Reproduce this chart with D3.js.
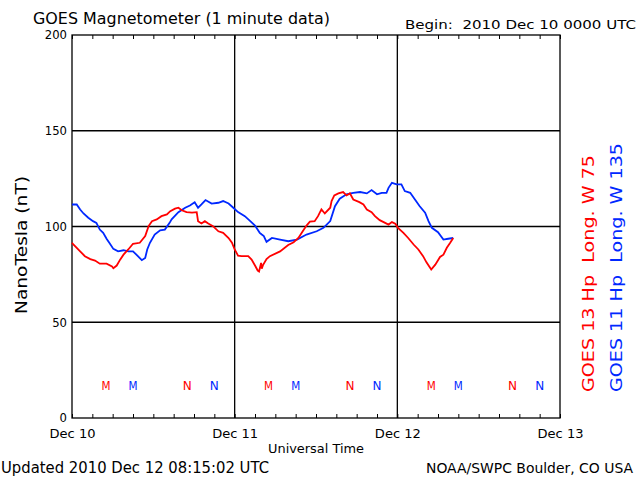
<!DOCTYPE html>
<html><head><meta charset="utf-8">
<script src="https://cdn.jsdelivr.net/npm/d3@7"></script>
<style>html,body{margin:0;padding:0;background:#fff;}svg{display:block;}text{white-space:pre;}</style>
</head><body>
<svg id="c" width="640" height="480"></svg>
<script>
// ---- data ----
const g13Hours = [0,0.2,1.2,1.9,2.7,3.4,4.1,5.1,5.9,6.1,6.6,7.1,7.6,8.3,9.0,10.0,10.3,10.8,11.3,11.8,12.5,13.2,14.0,14.5,15.2,15.7,16.2,16.9,17.7,18.4,18.6,19.1,19.6,20.1,20.8,21.6,22.3,23.1,23.6,24.0,24.5,25.0,26.0,26.5,27.0,27.4,27.6,27.9,28.0,28.2,28.7,29.2,30.7,31.9,32.7,33.4,33.9,34.6,35.1,35.8,36.3,36.8,37.3,38.1,38.3,38.7,39.3,40.0,40.5,41.0,41.5,42.4,43.0,43.5,44.2,44.7,45.4,46.2,46.7,47.2,47.7,48.1,48.9,49.6,50.4,51.1,51.8,52.3,53.0,53.6,54.3,54.8,55.3,55.8,56.25];
const g13Values = [91.5,90.6,87,84.5,83,82.2,80.6,80.6,79.2,78.2,79.6,82.7,85.3,88,91,91.5,92.8,95,100.2,102.8,103.7,105.4,106.3,108,109.3,109.8,108.5,107.5,107.2,107.5,102.8,101.6,102.8,101.6,100.2,97.5,96.7,94,91.5,88,84.8,84.5,84.5,82.7,79.6,77,76.5,81,78,80,83,84.5,87,90.3,91.8,94,96.7,100.5,102.5,102.8,105.4,108.9,106.8,109.8,113.3,116.2,117.3,118,116.2,117.3,114.1,112.7,111.5,108.9,107.5,105.4,103.3,101.9,101,102.3,101.4,99.3,96.7,94,90.6,88,84.5,81.3,77.5,80.1,84.1,85.3,88.9,91.5,94];
const g11Hours = [0,0.7,1.2,1.7,2.4,3.1,3.6,4.1,4.6,5.1,5.6,6.1,6.8,7.6,8.3,9.0,9.5,10.3,10.8,11.1,11.5,12.2,13.0,13.7,14.4,14.7,15.7,16.7,17.4,18.1,18.6,19.1,19.7,20.6,21.6,22.3,23.1,23.8,24.5,25.5,26.3,27.0,27.7,28.0,28.3,28.7,29.5,30.7,31.9,33.2,34.6,36.1,37.1,38.1,38.8,39.5,40.5,41.5,42.5,43.5,44.2,45.0,45.7,46.4,46.7,47.2,47.9,48.6,49.1,49.9,50.6,51.3,52.1,52.6,53.1,54.0,54.8,55.5,56.25];
const g11Values = [111.5,111.5,108.9,106.8,104.6,102.8,101.9,98.4,96.7,93.6,91,88.3,87,87.6,87,87,85.3,82.4,83.6,88,91.5,95.8,98,98.4,101.9,103.7,107.5,109.8,111,112.7,109.8,111.5,113.8,112,112.4,113.3,112,109.8,107.5,105.4,102.8,100.5,96.7,95.8,95,92,94,93.2,92.3,93.2,95.8,97.5,99.3,102.8,110.6,114.5,116.8,117.6,118,117.3,119,116.8,117.6,117.6,120.2,122.8,122,122,118.5,117.6,114.1,110.6,107.2,102.8,99.3,97,93.2,93.6,94];
// local midnight (M) and noon (N) markers, hours since start
const g13Midnight = [5, 29, 53];
const g13Noon = [17, 41, 65];
const g11Midnight = [9, 33, 57];
const g11Noon = [21, 45, 69];
const markerLevel = 17;
const yTicks = [0, 50, 100, 150, 200];
const yGrid = [50, 100, 150];
const dayHours = [0, 24, 48, 72];
const dayLabels = ["Dec 10", "Dec 11", "Dec 12", "Dec 13"];
const minorHours = d3.range(0, 73, 3);
const title = "GOES Magnetometer (1 minute data)";
const beginText = "Begin:  2010 Dec 10 0000 UTC";
const yTitle = "NanoTesla (nT)";
const xTitle = "Universal Time";
const updatedText = "Updated 2010 Dec 12 08:15:02 UTC";
const creditText = "NOAA/SWPC Boulder, CO USA";
const legend13 = "GOES 13 Hp  Long. W 75";
const legend11 = "GOES 11 Hp  Long. W 135";
const RED = "#ff0000", BLUE = "#0028ff";

// ---- drawing ----
const svg = d3.select("#c");
const FONT = "DejaVu Sans";
const L = 72, R = 560, T = 35, B = 418;
const x = d3.scaleLinear().domain([0, 72]).range([L, R]);
const y = d3.scaleLinear().domain([0, 200]).range([B, T]);

svg.append("rect").attr("width", 640).attr("height", 480).attr("fill", "#fff");

function txt(s, px, py, size, len, opts = {}) {
  const t = svg.append("text").attr("x", px).attr("y", py)
    .attr("font-family", FONT).attr("font-size", size)
    .attr("fill", opts.fill || "#000")
    .attr("text-anchor", opts.anchor || "start")
    .attr("xml:space", "preserve")
    .text(s);
  if (len) t.attr("textLength", len).attr("lengthAdjust", "spacingAndGlyphs");
  if (opts.rotate) t.attr("transform", `rotate(${opts.rotate},${px},${py})`);
  return t;
}

// grid
svg.append("g").selectAll("line").data(yGrid).join("line")
  .attr("x1", L).attr("x2", R).attr("y1", d => y(d)).attr("y2", d => y(d))
  .attr("stroke", "#000").attr("stroke-width", 1.3);
svg.append("g").selectAll("line").data(dayHours.slice(1, 3)).join("line")
  .attr("y1", T).attr("y2", B).attr("x1", d => x(d)).attr("x2", d => x(d))
  .attr("stroke", "#000").attr("stroke-width", 1.3);

// minor ticks (inward) via axes
const bAx = svg.append("g").attr("transform", `translate(0,${B})`)
  .call(d3.axisBottom(x).tickValues(minorHours).tickSize(-4).tickFormat(""));
const tAx = svg.append("g").attr("transform", `translate(0,${T})`)
  .call(d3.axisTop(x).tickValues(minorHours).tickSize(-4).tickFormat(""));
[bAx, tAx].forEach(a => { a.select(".domain").remove(); a.selectAll("line").attr("stroke", "#000").attr("stroke-width", 1); });

// day labels
const dAx = svg.append("g").attr("transform", `translate(0,${B})`)
  .call(d3.axisBottom(x).tickValues(dayHours).tickSize(0).tickPadding(11)
    .tickFormat((d, i) => dayLabels[i]));
dAx.select(".domain").remove();
dAx.selectAll("text").attr("font-family", FONT).attr("font-size", 12).attr("fill", "#000")
  .attr("textLength", 46).attr("lengthAdjust", "spacingAndGlyphs");

// y labels
const yAx = svg.append("g").attr("transform", `translate(${L},0)`)
  .call(d3.axisLeft(y).tickValues(yTicks).tickSize(0).tickPadding(5));
yAx.select(".domain").remove();
yAx.selectAll("text").attr("font-family", FONT).attr("font-size", 12).attr("fill", "#000")
  .each(function(d) { d3.select(this).attr("textLength", String(d).length * 7.4).attr("lengthAdjust", "spacingAndGlyphs"); });

// frame
svg.append("rect").attr("x", L).attr("y", T).attr("width", R - L).attr("height", B - T)
  .attr("fill", "none").attr("stroke", "#000").attr("stroke-width", 1.3);

// series
const line = d3.line().x(d => x(d[0])).y(d => y(d[1]));
svg.append("path").datum(g11Hours.map((h, i) => [h, g11Values[i]]))
  .attr("d", line).attr("fill", "none").attr("stroke", BLUE).attr("stroke-width", 1.8);
svg.append("path").datum(g13Hours.map((h, i) => [h, g13Values[i]]))
  .attr("d", line).attr("fill", "none").attr("stroke", RED).attr("stroke-width", 1.8);

// M / N markers
function markers(hours, label, color) {
  svg.append("g").selectAll("text").data(hours).join("text")
    .attr("x", d => x(d)).attr("y", y(markerLevel) + 5)
    .attr("text-anchor", "middle").attr("font-family", FONT).attr("font-size", 13)
    .attr("fill", color).attr("textLength", 9).attr("lengthAdjust", "spacingAndGlyphs")
    .text(label);
}
markers(g13Midnight, "M", RED);
markers(g11Midnight, "M", BLUE);
markers(g13Noon, "N", RED);
markers(g11Noon, "N", BLUE);

// texts
txt(title, 33, 24, 15, 297);
txt(beginText, 405, 29, 13, 231);
txt(xTitle, 268, 453, 12, 96);
txt(updatedText, 1, 473, 15, 268);
txt(creditText, 426, 473, 14, 207);
txt(yTitle, 27, 314, 16, 138, { rotate: -90 });
txt(legend13, 593.5, 392, 15, 237, { rotate: -90, fill: RED });
txt(legend11, 621.5, 392, 15, 249, { rotate: -90, fill: BLUE });
</script>
</body></html>
